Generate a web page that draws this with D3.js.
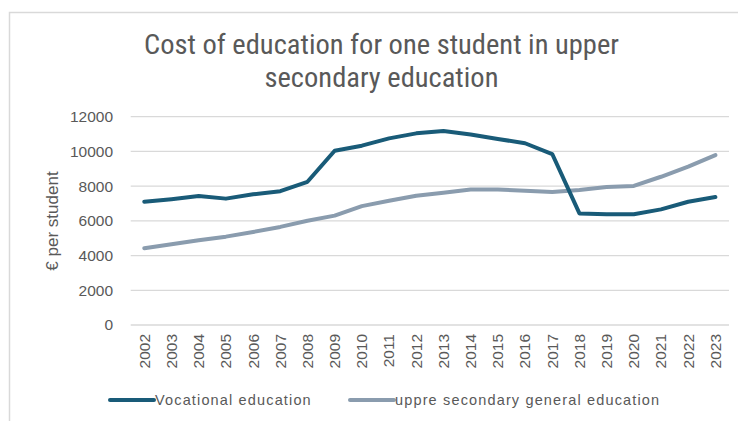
<!DOCTYPE html>
<html><head><meta charset="utf-8">
<script src="https://cdn.jsdelivr.net/npm/d3@7"></script>
<style>body{margin:0;background:#fff}svg{display:block}</style>
</head><body>
<svg id="c" width="738" height="421"></svg>
<script>
const years = ["2002","2003","2004","2005","2006","2007","2008","2009","2010","2011","2012","2013","2014","2015","2016","2017","2018","2019","2020","2021","2022","2023"];
const vocational = [7100,7250,7430,7280,7530,7710,8250,10040,10330,10750,11040,11180,10980,10720,10470,9850,6430,6380,6380,6660,7100,7370];
const general = [4420,4650,4880,5090,5360,5650,6010,6300,6850,7160,7450,7620,7800,7800,7740,7660,7780,7950,8010,8540,9120,9790];
const yTicks = [0,2000,4000,6000,8000,10000,12000];
const seriesNames = ["Vocational education","uppre secondary general education"];
const colors = ["#195b78","#8a9cae"];

const svg = d3.select("#c");
const font = "'Liberation Sans', Arial, sans-serif";

svg.append("rect").attr("x",9.5).attr("y",12.5).attr("width",800).attr("height",500)
  .attr("fill","none").attr("stroke","#d9d9d9").attr("stroke-width",1.5);

const title = svg.append("text").attr("text-anchor","middle").attr("fill","#595959")
  .style("font-family","'Liberation Sans Narrow', 'Roboto Condensed', Arial, sans-serif").style("font-size","28.5px");
title.append("tspan").attr("x",381.5).attr("y",54).text("Cost of education for one student in upper");
title.append("tspan").attr("x",381.5).attr("y",87).text("secondary education");

const x = d3.scaleBand().domain(years).range([130.7,729]);
const y = d3.scaleLinear().domain([0,12000]).range([325,116.7]);

const grid = svg.append("g");
grid.selectAll("line").data(yTicks).join("line")
  .attr("x1",130.7).attr("x2",729).attr("y1",d=>y(d)).attr("y2",d=>y(d))
  .attr("stroke","#d9d9d9").attr("stroke-width",1.3);

const yAxis = svg.append("g").attr("transform","translate(130.7,0)")
  .call(d3.axisLeft(y).tickValues(yTicks).tickSize(0).tickPadding(17.7).tickFormat(d3.format("d")));
yAxis.select(".domain").remove();
yAxis.selectAll("text").attr("fill","#595959").style("font-family",font).style("font-size","15.5px");

const xAxis = svg.append("g").attr("transform","translate(0,325)")
  .call(d3.axisBottom(x).tickSize(0).tickPadding(0));
xAxis.select(".domain").remove();
xAxis.selectAll("text").attr("fill","#595959").style("font-family",font).style("font-size","15.5px")
  .attr("text-anchor","end").attr("dy","0.35em").attr("dx",0)
  .attr("transform","translate(0,9) rotate(-90)").attr("y",0).attr("x",0);

svg.append("text").attr("transform","translate(52,221) rotate(-90)").attr("text-anchor","middle")
  .attr("dy","0.35em").attr("fill","#595959").style("font-family",font).style("font-size","17px")
  .text("€ per student");

const line = d3.line().x((d,i)=>x(years[i])+x.bandwidth()/2).y(d=>y(d));
[general, vocational].forEach((s)=>{
  const idx = s===vocational?0:1;
  svg.append("path").datum(s).attr("d",line).attr("fill","none")
    .attr("stroke",colors[idx]).attr("stroke-width",4).attr("stroke-linejoin","round").attr("stroke-linecap","round");
});

const legX = [110,350];
seriesNames.forEach((n,i)=>{
  svg.append("line").attr("x1",legX[i]).attr("x2",legX[i]+44).attr("y1",400).attr("y2",400)
    .attr("stroke",colors[i]).attr("stroke-width",4).attr("stroke-linecap","round");
  svg.append("text").attr("x",legX[i]+45).attr("y",400).attr("dy","0.35em").attr("fill","#595959")
    .style("font-family",font).style("font-size","14.5px").style("letter-spacing","1.15px").text(n);
});
</script>
</body></html>
